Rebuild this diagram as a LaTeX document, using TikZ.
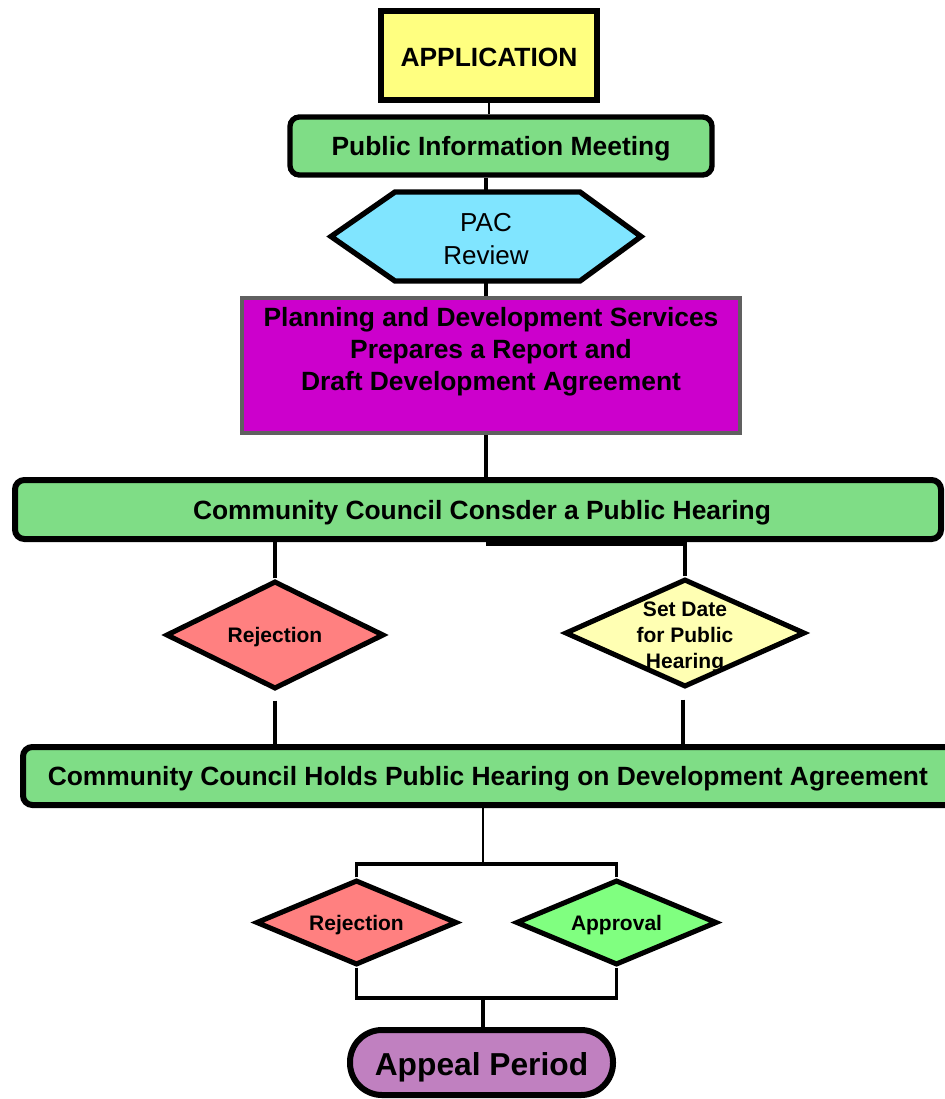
\documentclass[tikz,border=0pt]{standalone}
\usepackage{fontspec}
\setmainfont{Liberation Sans}
\usetikzlibrary{shapes.geometric,calc}
\definecolor{appyellow}{HTML}{FFFF80}
\definecolor{boxgreen}{HTML}{7FDD86}
\definecolor{paccyan}{HTML}{80E5FF}
\definecolor{pdsmagenta}{HTML}{CC00CC}
\definecolor{pdsgray}{HTML}{606060}
\definecolor{rejred}{HTML}{FF8080}
\definecolor{dateyellow}{HTML}{FFFFB3}
\definecolor{apprgreen}{HTML}{80FF80}
\definecolor{pillpurple}{HTML}{C080C0}
\pgfdeclarelayer{bg}
\pgfsetlayers{bg,main}
\begin{document}
\begin{tikzpicture}[x=0.75pt,y=-0.75pt,
  bigtext/.style={font=\bfseries\fontsize{19.8pt}{24pt}\selectfont},
  smalltext/.style={font=\bfseries\fontsize{15.75pt}{19.5pt}\selectfont},
  bigcap/.style={text height=14.3pt,text depth=0pt},
  smallcap/.style={text height=11.6pt,text depth=0pt},
  greenbox/.style={draw=black,line width=4.5pt,fill=boxgreen,rounded corners=7pt,inner sep=0pt,bigtext,bigcap},
  decision/.style={diamond,draw=black,line width=3.8pt,inner sep=0pt,aspect=2,smalltext,smallcap},
  conn/.style={line width=2.4pt,black},
  thinconn/.style={line width=1.3pt,black}]
\useasboundingbox (0,0) rectangle (945,1099);
\clip (0,0) rectangle (945,1099);

% APPLICATION
\node[draw=black,line width=4.5pt,fill=appyellow,inner sep=0pt,bigtext,
      text height=16.4pt,text depth=0pt,
      minimum width=162pt,minimum height=66.75pt] (app) at (489,55.5) {APPLICATION};
% Public Information Meeting
\node[greenbox,line width=4pt,minimum width=316.5pt,minimum height=43.5pt] (pim) at (501,146) {Public Information Meeting};
% PAC Review hexagon
\draw[line width=4pt,fill=paccyan,line join=miter] (331,236.5) -- (395,192) -- (580,192) -- (641,236.5) -- (580,281) -- (395,281) -- cycle;
\node[inner sep=0pt,minimum width=232.5pt,minimum height=66.75pt] (pac) at (486,236.5) {};
\node[inner sep=0pt,align=center,font=\fontsize{19.5pt}{24.75pt}\selectfont] (pactext) at (486,239.5) {PAC\\Review};
% Planning and Development Services
\node[draw=pdsgray,line width=3pt,fill=pdsmagenta,inner sep=0pt,
      minimum width=373.5pt,minimum height=101.25pt] (pds) at (491,365.5) {};
\node[bigtext,align=center,inner sep=0pt] (pdstext) at (491,352)
  {Planning and Development Services\\Prepares a Report and\\Draft Development Agreement};
% Community Council Consder
\node[greenbox,minimum width=694.5pt,minimum height=44.25pt] (ccc) at (478,509.5)
  {\hspace*{6pt}Community Council Consder a Public Hearing};
% decisions row 1
\node[decision,fill=rejred,minimum width=163.5pt,minimum height=81pt] (rej1) at (275,635) {Rejection};
\node[decision,fill=dateyellow,minimum width=180pt,minimum height=81pt] (setd) at (685,633) {};
\node[smalltext,align=center,inner sep=0pt] (setdtext) at (685,637.5) {Set Date\\for Public\\Hearing};
% Community Council Holds
\node[greenbox,minimum width=701.25pt,minimum height=43.5pt] (holds) at (490.5,776)
  {Community Council Holds Public Hearing on Development Agreement\hspace*{4pt}};
% decisions row 2
\node[decision,fill=rejred,minimum width=150.75pt,minimum height=63.75pt] (rej2) at (356.5,922.5) {Rejection};
\node[decision,fill=apprgreen,minimum width=150.75pt,minimum height=63.75pt] (appr) at (616.5,922.5) {Approval};
% Appeal Period
\node[draw=black,line width=4.5pt,fill=pillpurple,rounded corners=24pt,inner sep=0pt,
      minimum width=197.25pt,minimum height=48.75pt,text height=20pt,text depth=0pt,
      font=\bfseries\fontsize{23.8pt}{28pt}\selectfont] (pill) at (481.5,1062.5) {Appeal Period};

\coordinate (split) at (483,864);
\coordinate (join) at (483,998);

\begin{pgfonlayer}{bg}
\draw[thinconn,line width=1.6pt] (app.south) -- (app.south |- pim.north);
\draw[conn] (pac.north |- pim.south) -- (pac.north);
\draw[conn] (pac.south) -- (pac.south |- pds.north);
\draw[conn,line width=2.7pt] (pac.south |- pds.south) -- (pac.south |- ccc.north);
\draw[conn] (rej1.north) -- (rej1.north |- ccc.south);
\draw[conn] (setd.north) -- (setd.north |- ccc.south);
\draw[conn,line width=3pt] ([yshift=-1.4pt]pac.south |- ccc.south) -- ([yshift=-1.4pt]setd.north |- ccc.south);
\draw[conn] ([yshift=-6.75pt]rej1.south) -- (rej1.south |- holds.north);
\draw[conn] ([xshift=-1.5pt,yshift=-7.5pt]setd.south) -- ([xshift=-1.5pt]setd.south |- holds.north);
\draw[thinconn] (split |- holds.south) -- (split);
\draw[conn] (rej2.north) -- (rej2.north |- split) -- (appr.north |- split) -- (appr.north);
\draw[conn] (rej2.south) -- (rej2.south |- join) -- (appr.south |- join) -- (appr.south);
\draw[conn,line width=3pt] (join) -- (join |- pill.north);
\end{pgfonlayer}
\end{tikzpicture}
\end{document}
